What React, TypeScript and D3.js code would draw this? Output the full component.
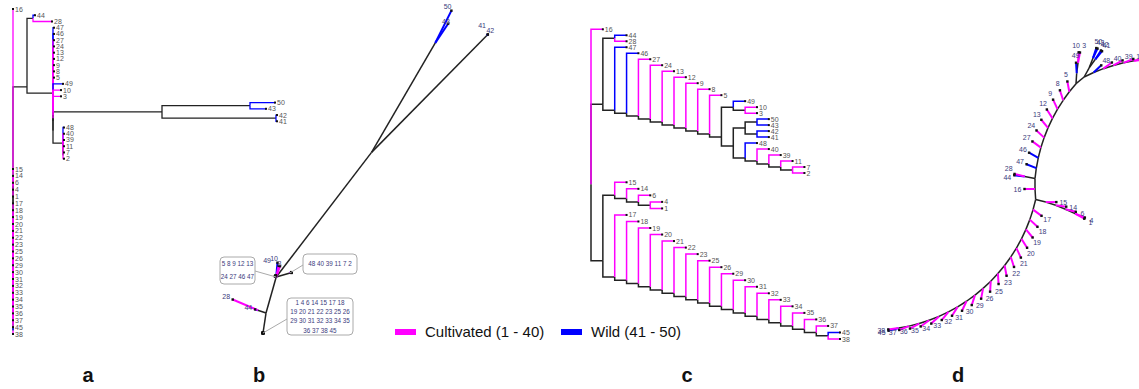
import React, { useEffect, useRef } from 'react';
import * as d3 from 'd3';

interface TreeNode {
  name: string;
  len: number;
  children: TreeNode[];
}

// Tree (Newick) with branch lengths
const NEWICK_WILD = '((50:0.25,43:0.16):0.88,(42:0.01,41:0.01):1.14):1.09';
const NEWICK_TAIL = '(48:0.01,(40:0.01,(39:0.01,(11:0.01,(7:0.01,2:0.01))))):0.10';
const NEWICK_CORE = `((49:0.10,(10:0.08,3:0.08)),(${NEWICK_WILD},${NEWICK_TAIL}))`;
const NEWICK_UPPER = `((44:0.02,28:0.19):0.06,(47:0.01,(46:0.01,(27:0.01,(24:0.01,(13:0.01,(12:0.01,(9:0.01,(8:0.01,(5:0.01,${NEWICK_CORE}${')'.repeat(9)}:0.26)`;
const NEWICK_LOWER = `((15,(14,(6,(4,1)))),(17,(18,(19,(20,(21,(22,(23,(25,(26,(29,(30,(31,(32,(33,(34,(35,(36,(37,(45,38${')'.repeat(19)})`;
const NEWICK = `(16,${NEWICK_UPPER}:0.14,${NEWICK_LOWER});`;

const CULTIVATED_MAX = 40;

// panel b: leaves that keep their own label, the rest sit in the boxes
const B_LABELS = ['49', '10', '3', '28', '44', '50', '43', '41', '42'];
const B_BOX_LADDER = ['5 8 9 12 13', '24 27 46 47'];
const B_BOX_TAIL = ['48  40  39  11  7  2'];
const B_BOX_LOWER = ['1   4   6  14  15  17  18', '19  20  21  22  23  25  26', '29  30  31  32  33  34  35', '36  37  38  45'];

const LEGEND = [
  { label: 'Cultivated (1 - 40)', color: '#ff00ff' },
  { label: 'Wild (41 - 50)', color: '#0000ff' }
];
const PANELS = ['a', 'b', 'c', 'd'];

const MAGENTA = '#ff00ff';
const BLUE = '#0000ff';
const EDGE = '#222';
const FONT = 'Arial, "Liberation Sans", sans-serif';

function parseNewick(s: string): TreeNode {
  let i = 0;
  const parse = (): TreeNode => {
    const node: TreeNode = { name: '', len: 0, children: [] };
    if (s[i] === '(') {
      i++;
      node.children.push(parse());
      while (s[i] === ',') {
        i++;
        node.children.push(parse());
      }
      i++;
    }
    let name = '';
    while (i < s.length && !',():;'.includes(s[i])) name += s[i++];
    node.name = name;
    if (s[i] === ':') {
      i++;
      let num = '';
      while (i < s.length && !',();'.includes(s[i])) num += s[i++];
      node.len = +num;
    }
    return node;
  };
  return parse();
}

const App: React.FC = () => {
  const svgRef = useRef<SVGSVGElement>(null);

  useEffect(() => {
    if (!svgRef.current) return;
    const svg = d3.select(svgRef.current);
    svg.selectAll('*').remove();

    const root = d3.hierarchy<TreeNode>(parseNewick(NEWICK), d => (d.children.length ? d.children : null));
    const leaves = root.leaves();
    const nodes = root.descendants();
    const edges = nodes.filter(n => n.parent);
    const orderedEdges = [...edges.filter(n => n.children), ...edges.filter(n => !n.children)];
    const colorOf = (n: any) => (n.children ? EDGE : +n.data.name <= CULTIVATED_MAX ? MAGENTA : BLUE);

    const dist = new Map<any, number>();
    root.eachBefore(n => dist.set(n, n.parent ? dist.get(n.parent)! + n.data.len : 0));

    const lca = (a: string, b: string) => {
      const la = leaves.find(l => l.data.name === a)!;
      const lb = leaves.find(l => l.data.name === b)!;
      return la.path(lb).reduce((m, n) => (n.depth < m.depth ? n : m));
    };

    // rectangular layouts (a, c)
    const rectPositions = (xOf: (n: any) => number, yScale: d3.ScaleLinear<number, number>) => {
      const yLeaf = new Map<any, number>();
      leaves.forEach((l, i) => yLeaf.set(l, yScale(i)));
      const pos = new Map<any, [number, number]>();
      nodes.forEach(n => {
        const ls = n.leaves();
        pos.set(n, [xOf(n), (yLeaf.get(ls[0])! + yLeaf.get(ls[ls.length - 1])!) / 2]);
      });
      return pos;
    };

    const drawRect = (pos: Map<any, [number, number]>, sw: number) => {
      const g = svg.append('g');
      g.selectAll('path')
        .data(orderedEdges)
        .join('path')
        .attr('d', n => {
          const [px, py] = pos.get(n.parent)!;
          const [cx, cy] = pos.get(n)!;
          return `M${px},${py}V${cy}H${cx}`;
        })
        .attr('fill', 'none')
        .attr('stroke', colorOf)
        .attr('stroke-width', sw);
      g.selectAll('rect')
        .data(leaves)
        .join('rect')
        .attr('x', n => pos.get(n)![0] - 1)
        .attr('y', n => pos.get(n)![1] - 1)
        .attr('width', 2)
        .attr('height', 2)
        .attr('fill', '#111');
      g.selectAll('text')
        .data(leaves)
        .join('text')
        .attr('x', n => pos.get(n)![0] + 2)
        .attr('y', n => pos.get(n)![1] + 2.5)
        .style('font-size', '7px')
        .style('font-family', FONT)
        .style('fill', '#555')
        .text(n => n.data.name);
    };

    // panel a: phylogram
    const xA = d3.scaleLinear().domain([0, 2.64]).range([13, 277]);
    const yA = d3.scaleLinear().domain([0, 24, 25, 49]).range([9, 158.7, 169, 334]);
    drawRect(rectPositions(n => xA(dist.get(n)!), yA), 1.3);

    // panel c: equal branch lengths
    const xC = d3.scaleLinear().domain([0, 21]).range([591, 840]);
    const yC = d3.scaleLinear().domain([0, 24, 25, 49]).range([29.3, 173, 182.3, 339]);
    drawRect(rectPositions(n => xC(n.depth), yC), 1.5);

    // equal-angle unrooted layouts (b, d)
    const radialPositions = (lenOf: (n: any) => number, theta0: number) => {
      const N = leaves.length;
      const pos = new Map<any, { x: number; y: number; a0: number; dir: number }>();
      pos.set(root, { x: 0, y: 0, a0: 0, dir: 0 });
      root.eachBefore(n => {
        const p = pos.get(n)!;
        let start = p.a0;
        (n.children || []).forEach(c => {
          const w = (c.leaves().length / N) * Math.PI * 2;
          const dir = theta0 + start + w / 2;
          const L = lenOf(c);
          pos.set(c, { x: p.x + L * Math.cos(dir), y: p.y + L * Math.sin(dir), a0: start, dir });
          start += w;
        });
      });
      return pos;
    };

    const drawRadial = (
      pos: Map<any, { x: number; y: number; a0: number; dir: number }>,
      sx: d3.ScaleLinear<number, number>,
      sy: d3.ScaleLinear<number, number>,
      labelled: (n: any) => boolean,
      nudge: Record<string, [number, number]>
    ) => {
      const g = svg.append('g');
      g.selectAll('line')
        .data(orderedEdges)
        .join('line')
        .attr('x1', n => sx(pos.get(n.parent)!.x))
        .attr('y1', n => sy(pos.get(n.parent)!.y))
        .attr('x2', n => sx(pos.get(n)!.x))
        .attr('y2', n => sy(pos.get(n)!.y))
        .attr('stroke', colorOf)
        .attr('stroke-width', n => (n.children ? 1.5 : 2));
      g.selectAll('rect')
        .data(leaves)
        .join('rect')
        .attr('x', n => sx(pos.get(n)!.x) - 1.2)
        .attr('y', n => sy(pos.get(n)!.y) - 1.2)
        .attr('width', 2.4)
        .attr('height', 2.4)
        .attr('fill', '#111');
      g.selectAll('text')
        .data(leaves.filter(labelled))
        .join('text')
        .attr('x', n => sx(pos.get(n)!.x) + 7 * Math.cos(pos.get(n)!.dir) + (nudge[n.data.name]?.[0] ?? 0))
        .attr('y', n => sy(pos.get(n)!.y) + 7 * Math.sin(pos.get(n)!.dir) + 2.5 + (nudge[n.data.name]?.[1] ?? 0))
        .attr('text-anchor', 'middle')
        .style('font-size', '7px')
        .style('font-family', FONT)
        .style('fill', '#3b3b7d')
        .text(n => n.data.name);
      return g;
    };

    // panel b
    const posB = radialPositions(n => n.data.len, (185 * Math.PI) / 180);
    const xB = d3.scaleLinear().domain([0, 1]).range([263, 263 + 144]);
    const yB = d3.scaleLinear().domain([0, 1]).range([333, 333 + 144]);
    drawRadial(posB, xB, yB, n => B_LABELS.includes(n.data.name), {
      '49': [-11, 5],
      '10': [-6, 0],
      '3': [-3, 4],
      '41': [-11, -4],
      '42': [-2, 1],
      '50': [-7, 2],
      '43': [-6, 4]
    });

    const boxes = [
      { lines: B_BOX_LADDER, x: 220, y: 257, w: 35, h: 27, ax: 255, ay: 271, target: lca('47', '5') },
      { lines: B_BOX_TAIL, x: 303, y: 254, w: 54, h: 20, ax: 303, ay: 265, target: lca('48', '2') },
      { lines: B_BOX_LOWER, x: 287, y: 298, w: 66, h: 37, ax: 287, ay: 319, target: lca('15', '38') }
    ];
    const gb = svg.append('g');
    boxes.forEach(b => {
      const t = posB.get(b.target)!;
      gb.append('line')
        .attr('x1', b.ax).attr('y1', b.ay)
        .attr('x2', xB(t.x)).attr('y2', yB(t.y))
        .attr('stroke', '#aaa').attr('stroke-width', 1);
      gb.append('rect')
        .attr('x', b.x).attr('y', b.y).attr('width', b.w).attr('height', b.h)
        .attr('rx', 4).attr('fill', '#fff').attr('stroke', '#aaa').attr('stroke-width', 1);
      const step = b.h / b.lines.length;
      b.lines.forEach((line, i) => {
        gb.append('text')
          .attr('x', b.x + b.w / 2)
          .attr('y', b.y + step * (i + 0.5) + 2.2)
          .attr('text-anchor', 'middle')
          .style('font-size', '6.3px')
          .style('font-family', FONT)
          .style('fill', '#3b3b7d')
          .text(line);
      });
    });

    // panel d: equal branch lengths, unrooted
    const posD = radialPositions(() => 1, (176.4 * Math.PI) / 180);
    const xD = d3.scaleLinear().domain([0, 1]).range([1035, 1045.5]);
    const yD = d3.scaleLinear().domain([0, 1]).range([189, 199.5]);
    drawRadial(posD, xD, yD, () => true, { '28': [1, -4], '44': [0, 3], '10': [-3, 0], '3': [3, 0] });

    // legend
    const legendX = d3.scalePoint<string>().domain(LEGEND.map(d => d.label)).range([395, 561]);
    const gl = svg.append('g');
    LEGEND.forEach(d => {
      const x = legendX(d.label)!;
      gl.append('rect').attr('x', x).attr('y', 329).attr('width', 21).attr('height', 6).attr('fill', d.color);
      gl.append('text')
        .attr('x', x + 30)
        .attr('y', 337)
        .style('font-size', '15px')
        .style('font-family', FONT)
        .style('fill', '#111')
        .text(d.label);
    });

    // panel letters
    const letterX = [88, 259, 687, 958];
    svg.selectAll('text.panel')
      .data(PANELS)
      .join('text')
      .attr('class', 'panel')
      .attr('x', (d, i) => letterX[i])
      .attr('y', 382)
      .attr('text-anchor', 'middle')
      .style('font-size', '20px')
      .style('font-weight', 'bold')
      .style('font-family', FONT)
      .style('fill', '#111')
      .text(d => d);
  }, []);

  return (
    <svg
      ref={svgRef}
      width={1139}
      height={389}
      style={{ position: 'absolute', left: 0, top: 0, background: '#fff' }}
    />
  );
};

export default App;
